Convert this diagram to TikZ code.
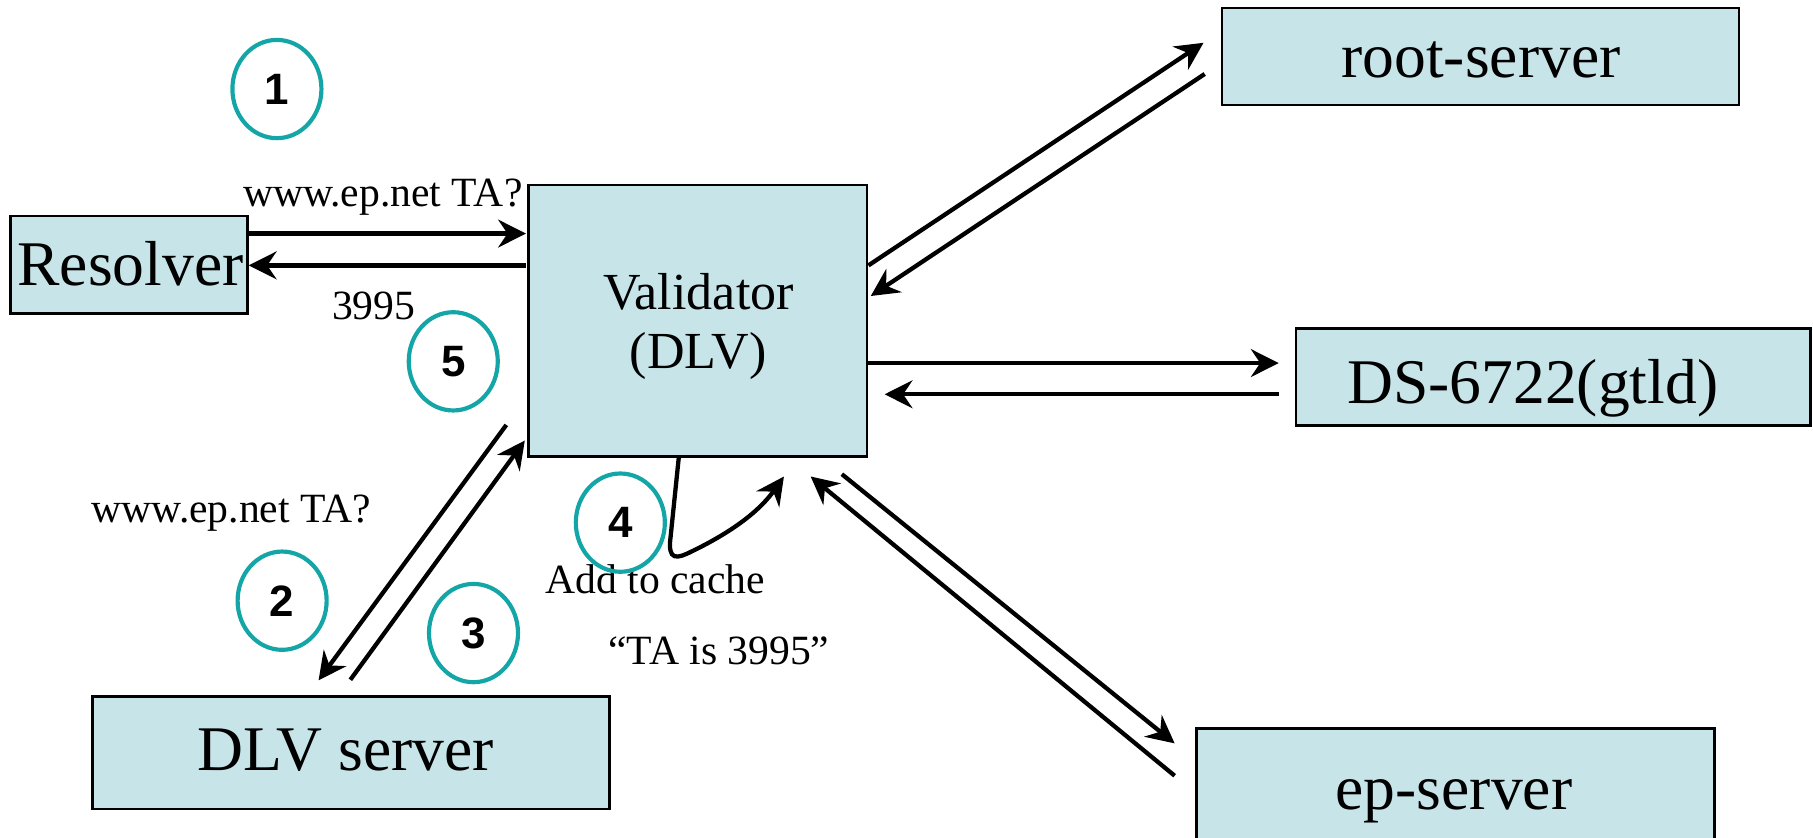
\documentclass[tikz,border=0pt]{standalone}
\usepackage{fontspec}
\setmainfont{Liberation Serif}
\newfontfamily\numfont{Liberation Sans}
\usetikzlibrary{arrows.meta,calc,shapes.geometric}
\definecolor{boxfill}{RGB}{199,229,233}
\definecolor{stepteal}{RGB}{20,166,166}
\begin{document}
\begin{tikzpicture}[x=1pt,y=-1pt,
  srvbox/.style={draw=black,line width=2.2pt,fill=boxfill,rectangle,inner sep=0pt},
  bigtext/.style={font=\fontsize{55}{60}\selectfont,inner sep=0pt,anchor=base west},
  valtext/.style={font=\fontsize{45}{50}\selectfont,inner sep=0pt,anchor=base},
  lbl/.style={font=\fontsize{36}{40}\selectfont,inner sep=0pt,anchor=base west},
  stepnum/.style={ellipse,draw=stepteal,line width=3.6pt,minimum width=77pt,minimum height=85pt,inner sep=0pt,font=\numfont\bfseries\fontsize{38}{40}\selectfont},
  flow/.style={line width=3.7pt,-{Stealth[length=24pt,width=24pt,inset=8pt]}}]
\useasboundingbox (0,0) rectangle (1568,724);

% boxes
\node[srvbox,minimum width=205pt,minimum height=84pt] (res) at (111.5,229) {};
\node[srvbox,minimum width=293pt,minimum height=235pt] (val) at (603.5,277.5) {};
\node[srvbox,minimum width=447pt,minimum height=84pt] (root) at (1280.5,49) {};
\node[srvbox,minimum width=445pt,minimum height=84pt] (ds) at (1343.5,326) {};
\node[srvbox,minimum width=448pt,minimum height=100pt] (ep) at (1259,680) {};
\node[srvbox,minimum width=447pt,minimum height=97pt] (dlv) at (303.5,651) {};

% box texts
\node[bigtext] (restext) at (15,246.5) {Resolver};
\node[valtext] (valtext1) at (604,267.5) {Validator};
\node[valtext] (valtext2) at (604,318.5) {(DLV)};
\node[bigtext] (roottext) at (1160,67) {root-server};
\node[bigtext] (dstext) at (1165,349) {DS-6722(gtld)};
\node[bigtext] (eptext) at (1155,700) {ep-server};
\node[bigtext] (dlvtext) at (171,666) {DLV server};

% labels
\node[lbl] (q1) at (210,179) {www.ep.net TA?};
\node[lbl] (ans) at (287,276) {3995};
\node[lbl] (q2) at (79,452) {www.ep.net TA?};
\node[lbl] (cache) at (471.5,513) {Add to cache};
\node[lbl] (taval) at (526,575) {“TA is 3995”};

% step circles
\node[stepnum] (s1) at (239.5,77) {1};
\node[stepnum] (s5) at (392,312.5) {5};
\node[stepnum] (s2) at (244,519.5) {2};
\node[stepnum] (s3) at (409.5,547.5) {3};
\node[stepnum] (s4) at (536.5,452) {4};

% connectors
\draw[flow] ($(res.east)+(0,-27)$) -- ($(val.west)+(-1,-75.5)$);
\draw[flow] ($(val.west)+(-1,-48)$) -- ($(res.east)+(0,0.5)$);
\draw[flow] ($(val.east)+(0,-48)$) -- ($(root.west)+(-15,-12)$);
\draw[flow] ($(root.west)+(-14,15)$) -- ($(val.east)+(2,-21.5)$);
\draw[flow] ($(val.east)+(0,36.5)$) -- ($(ds.west)+(-14,-12)$);
\draw[flow] ($(ds.west)+(-14,15)$) -- ($(val.east)+(14,63.5)$);
\draw[flow] ($(val.south east)+(-23,14)$) -- ($(ep.north west)+(-18,14)$);
\draw[flow] ($(ep.north west)+(-18,42)$) -- ($(val.south east)+(-50,16)$);
\draw[flow] ($(val.west)+(-18,90)$) -- ($(dlv.north)+(-28,-13)$);
\draw[flow] ($(dlv.north)+(-0.5,-13.5)$) -- ($(val.west)+(-2,103.5)$);

% self loop (step 4)
\coordinate (c4start) at ($(val.south)+(-16.5,0)$);
\coordinate (c4end) at ($(val.south)+(74.5,16)$);
\draw[flow] (c4start) -- (580,464) .. controls (577,486) and (586,483) .. (598,477) .. controls (625,464) and (654,446) .. (c4end);
\end{tikzpicture}
\end{document}
